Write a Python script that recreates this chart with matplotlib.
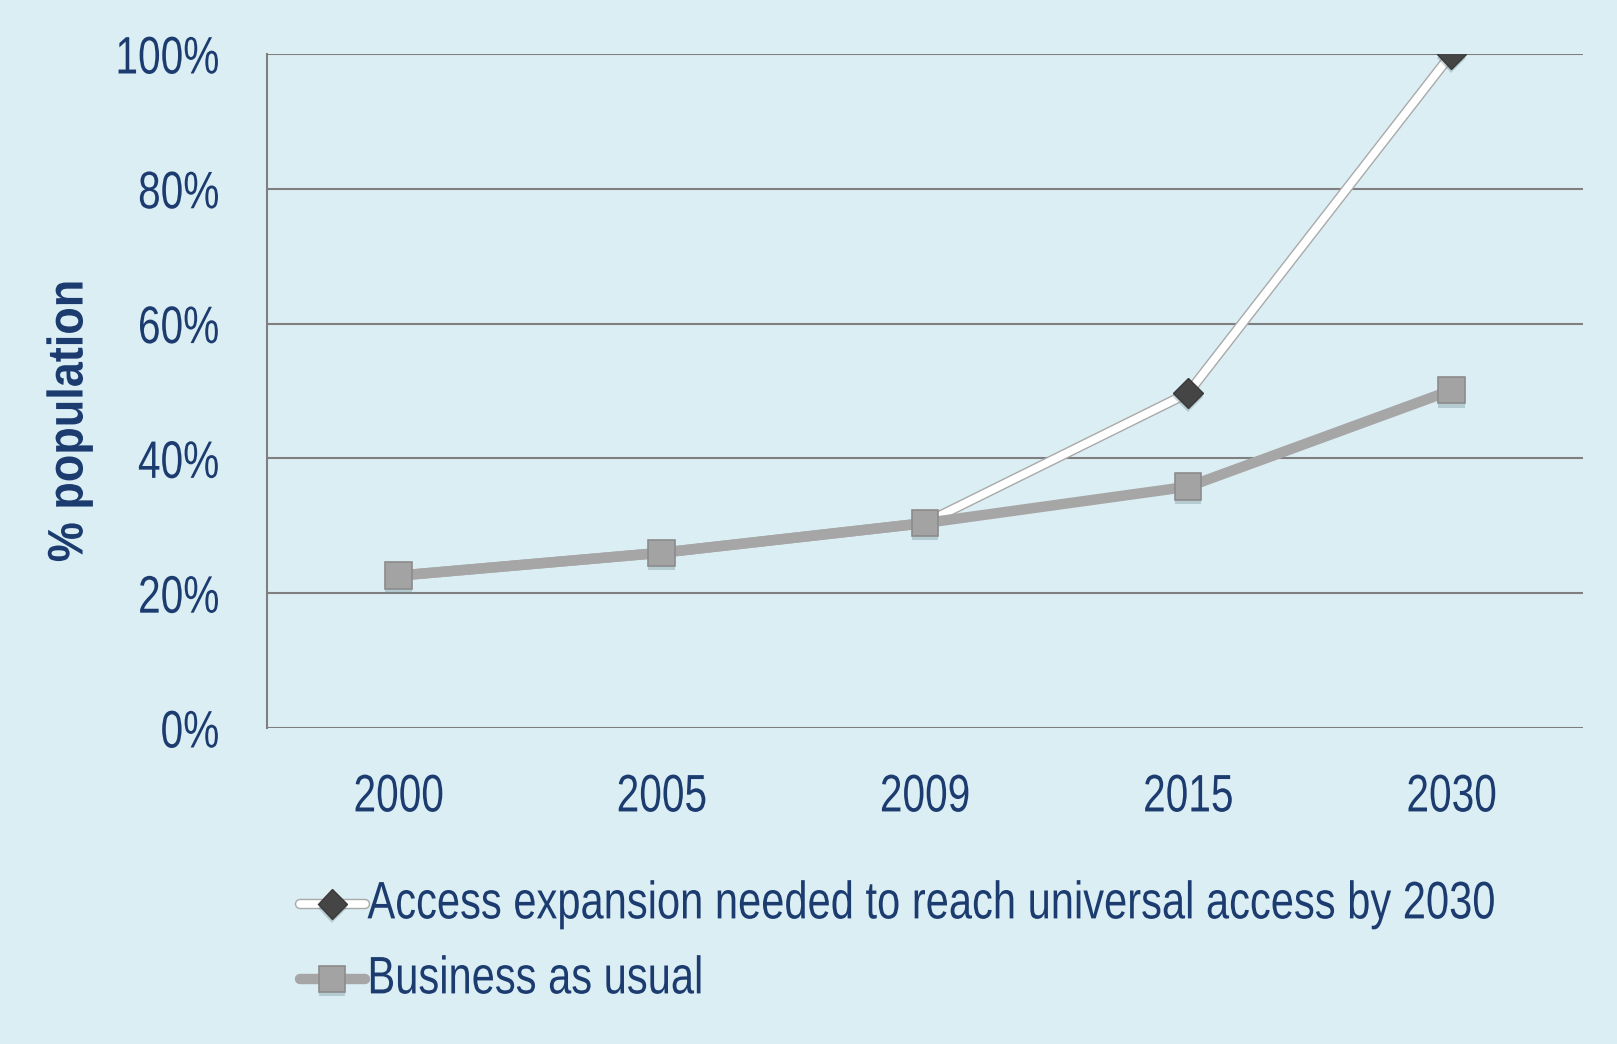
import matplotlib
matplotlib.use("Agg")
import matplotlib.pyplot as plt
import matplotlib.patheffects as pe
from matplotlib.transforms import Affine2D
from matplotlib.legend_handler import HandlerTuple
import numpy as np

years = ["2000", "2005", "2009", "2015", "2030"]
access_needed = [22.6, 26.0, 30.4, 49.7, 100.0]
business_as_usual = [22.6, 26.0, 30.4, 35.8, 50.1]
y_ticks = [0, 20, 40, 60, 80, 100]
y_tick_labels = ["0%", "20%", "40%", "60%", "80%", "100%"]
label_access = "Access expansion needed to reach universal access by 2030"
label_bau = "Business as usual"
y_label = "% population"

BG = "#dbeef4"
TXT = "#1c3c70"
GRID = "#7f7f7f"
plt.rcParams["font.family"] = ["Liberation Sans", "DejaVu Sans"]


class Scale(pe.AbstractPathEffect):
    """Rescale text glyphs along/across the baseline about an anchor."""
    def __init__(self, sx=0.77, sy=1.0, anchor="left"):
        super().__init__()
        self.sx = sx
        self.sy = sy
        self.anchor = anchor

    def draw_path(self, renderer, gc, tpath, affine, rgbFace=None):
        ext = tpath.get_extents()
        if self.anchor == "left":
            cx = 0.0
        elif self.anchor == "right":
            cx = ext.x1
        else:
            cx = (ext.x0 + ext.x1) / 2
        t = Affine2D().translate(-cx, 0).scale(self.sx, self.sy).translate(cx, 0) + affine
        renderer.draw_path(gc, tpath, t, rgbFace)


fig = plt.figure(figsize=(16.17, 10.44), dpi=100, facecolor=BG)
ax = fig.add_axes([0.165, 0.3027, 0.814, 0.6456])
ax.set_facecolor(BG)

x = np.arange(len(years))
shadow = pe.SimplePatchShadow(offset=(0, -3), shadow_rgbFace="#6f8a94", alpha=0.35)

l_acc, = ax.plot(x, access_needed, color="white", lw=5.5, solid_capstyle="round",
                 path_effects=[pe.Stroke(linewidth=7.5, foreground="#a9a9a9"), pe.Normal()],
                 zorder=3)
m_acc, = ax.plot(x, access_needed, ls="none", marker="D", ms=15, markevery=[3, 4],
                 mfc="#454545", mec="#3a3a3a", mew=1,
                 path_effects=[shadow, pe.Normal()], zorder=3.5)
l_bau, = ax.plot(x, business_as_usual, color="#a6a6a6", lw=7.5, solid_capstyle="round",
                 zorder=4)
m_bau, = ax.plot(x, business_as_usual, ls="none", marker="s", ms=19,
                 mfc="#a3a3a3", mec="#8c8c8c", mew=1.2,
                 path_effects=[shadow, pe.Normal()], zorder=4.5)

ax.set_xlim(-0.5, len(years) - 0.5)
ax.set_ylim(0, 100)
ax.set_yticks(y_ticks)
ax.set_yticklabels(y_tick_labels)
ax.set_xticks(x)
ax.set_xticklabels(years)
ax.tick_params(axis="both", length=0, labelsize=38, colors=TXT)
ax.tick_params(axis="y", pad=34)
ax.tick_params(axis="x", pad=32)
for t in ax.get_yticklabels():
    t.set_path_effects([Scale(0.77, 1.0, "right")])
for t in ax.get_xticklabels():
    t.set_path_effects([Scale(0.77, 1.0, "center")])
ax.grid(axis="y", color=GRID, lw=1.5)
ax.set_axisbelow(True)
for s in ["top", "right", "bottom"]:
    ax.spines[s].set_visible(False)
ax.spines["left"].set_color(GRID)
ax.spines["left"].set_linewidth(1.5)

yl = fig.text(0.043, 0.597, y_label, rotation=90, ha="center", va="center",
              fontsize=36, fontweight="bold", color=TXT)
yl.set_path_effects([Scale(0.9, 1.0, "center")])

leg = ax.legend(handles=[(l_acc, m_acc), (l_bau, m_bau)], labels=[label_access, label_bau],
                handler_map={tuple: HandlerTuple(ndivide=1)},
                loc="upper left", bbox_to_anchor=(0.1855, 0.150), bbox_transform=fig.transFigure,
                frameon=False, fontsize=30, handlelength=1.55, handletextpad=0.07,
                labelspacing=0.84, borderpad=0, borderaxespad=0)
for t in leg.get_texts():
    t.set_color(TXT)
    t.set_path_effects([Scale(1.0, 38 / 30, "left")])

fig.savefig("out.png", dpi=100, facecolor=BG)
